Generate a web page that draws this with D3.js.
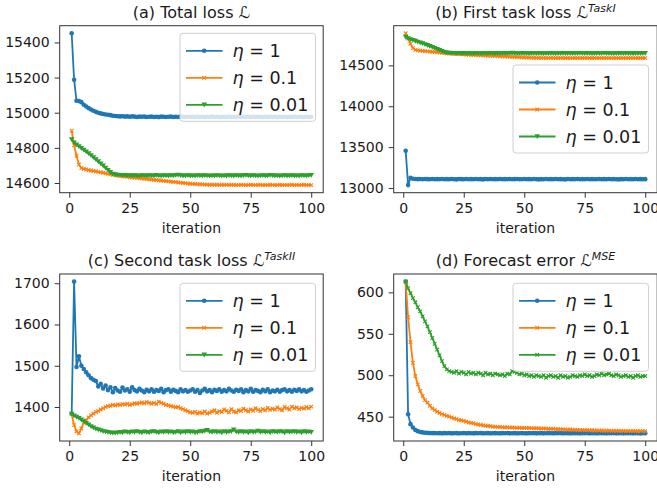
<!DOCTYPE html>
<html lang="en">
<head>
    <meta charset="utf-8">
    <script type="text/javascript" src="https://d3js.org/d3.v7.min.js"></script>
    <style>
        body { margin: 0; background: #fff; }
        svg text { font-family: "DejaVu Sans", sans-serif; fill: #1a1a1a; }
    </style>
</head>

<body>
    <script type="text/javascript">
        // Chart size
        let w = 657;
        let h = 491;

        // Iterations 1..100
        let iterations = d3.range(1, 101);

        // Legend labels (eta values)
        let etaLabels = ["1", "0.1", "0.01"];

        // Tick values per panel
        let xTicks = [0, 25, 50, 75, 100];
        let ticksA = [14600, 14800, 15000, 15200, 15400];
        let ticksB = [13000, 13500, 14000, 14500];
        let ticksC = [1400, 1500, 1600, 1700];
        let ticksD = [450, 500, 550, 600];

        // (a) Total loss
        let aBlue = [15452, 15188, 15068, 15066, 15060, 15045, 15035, 15026, 15018, 15011,
            15005, 15000, 14996, 14993, 14990, 14988, 14986, 14983, 14981, 14980,
            14979, 14980, 14978, 14979, 14977, 14979, 14978, 14976, 14978, 14977,
            14978, 14976, 14977, 14978, 14976, 14977, 14975, 14978, 14977, 14976,
            14977, 14978, 14976, 14977, 14976, 14978, 14977, 14975, 14977, 14976,
            14977, 14976, 14978, 14976, 14977, 14975, 14977, 14976, 14978, 14976,
            14977, 14976, 14975, 14977, 14976, 14978, 14976, 14977, 14975, 14977,
            14976, 14977, 14975, 14977, 14976, 14978, 14976, 14977, 14976, 14975,
            14977, 14976, 14978, 14976, 14977, 14975, 14977, 14976, 14977, 14975,
            14977, 14976, 14978, 14976, 14977, 14976, 14975, 14977, 14976, 14977];
        let aOrange = [14898, 14815, 14755, 14705, 14685, 14680, 14677, 14673, 14671, 14668,
            14666, 14663, 14661, 14658, 14655, 14652, 14649, 14646, 14644, 14642,
            14640, 14638, 14636, 14635, 14633, 14632, 14630, 14629, 14627, 14626,
            14624, 14623, 14621, 14620, 14618, 14617, 14615, 14614, 14612, 14611,
            14609, 14608, 14606, 14605, 14603, 14602, 14600, 14599, 14597, 14596,
            14595, 14594, 14593, 14592, 14592, 14591, 14591, 14590, 14591, 14590,
            14590, 14589, 14590, 14589, 14590, 14589, 14590, 14589, 14588, 14589,
            14589, 14590, 14588, 14589, 14590, 14589, 14588, 14589, 14590, 14588,
            14589, 14588, 14590, 14589, 14588, 14589, 14590, 14588, 14589, 14588,
            14589, 14590, 14588, 14589, 14588, 14589, 14590, 14588, 14589, 14588];
        let aGreen = [14848, 14830, 14818, 14808, 14798, 14788, 14778, 14768, 14757, 14746,
            14734, 14722, 14710, 14698, 14686, 14673, 14661, 14652, 14648, 14646,
            14645, 14643, 14644, 14642, 14643, 14641, 14643, 14642, 14640, 14643,
            14642, 14641, 14643, 14642, 14641, 14644, 14642, 14640, 14643, 14642,
            14641, 14643, 14642, 14644, 14646, 14643, 14641, 14642, 14643, 14641,
            14642, 14640, 14643, 14642, 14641, 14643, 14642, 14640, 14642, 14641,
            14643, 14642, 14640, 14642, 14641, 14643, 14642, 14641, 14643, 14642,
            14641, 14643, 14644, 14642, 14641, 14643, 14642, 14640, 14642, 14643,
            14641, 14642, 14644, 14643, 14641, 14642, 14640, 14642, 14643, 14641,
            14642, 14643, 14641, 14642, 14640, 14643, 14642, 14641, 14643, 14644];

        // (b) First task loss
        let bBlue = [13455, 13035, 13125, 13112, 13110, 13108, 13109, 13107, 13110, 13108,
            13106, 13109, 13107, 13108, 13106, 13110, 13107, 13108, 13106, 13109,
            13107, 13105, 13109, 13108, 13106, 13110, 13107, 13108, 13106, 13109,
            13107, 13108, 13105, 13109, 13107, 13110, 13106, 13108, 13107, 13109,
            13106, 13108, 13107, 13109, 13106, 13108, 13110, 13107, 13106, 13109,
            13107, 13108, 13106, 13109, 13107, 13105, 13108, 13107, 13109, 13106,
            13108, 13107, 13109, 13106, 13108, 13107, 13105, 13109, 13107, 13108,
            13106, 13109, 13107, 13108, 13106, 13109, 13107, 13108, 13106, 13107,
            13109, 13106, 13108, 13107, 13109, 13106, 13108, 13107, 13105, 13108,
            13107, 13109, 13106, 13108, 13107, 13109, 13106, 13108, 13107, 13108];
        let bOrange = [14893, 14830, 14765, 14712, 14690, 14684, 14680, 14677, 14674, 14672,
            14669, 14667, 14664, 14661, 14658, 14655, 14652, 14649, 14646, 14644,
            14642, 14640, 14638, 14636, 14635, 14633, 14631, 14630, 14628, 14627,
            14625, 14624, 14622, 14621, 14619, 14618, 14616, 14615, 14613, 14612,
            14610, 14609, 14607, 14606, 14604, 14603, 14601, 14600, 14598, 14597,
            14596, 14595, 14594, 14594, 14593, 14593, 14592, 14592, 14591, 14592,
            14591, 14590, 14591, 14590, 14591, 14590, 14591, 14590, 14589, 14590,
            14590, 14591, 14589, 14590, 14591, 14590, 14589, 14590, 14591, 14589,
            14590, 14589, 14591, 14590, 14589, 14590, 14591, 14589, 14590, 14589,
            14590, 14591, 14589, 14590, 14589, 14590, 14591, 14589, 14590, 14589];
        let bGreen = [14847, 14830, 14818, 14808, 14798, 14788, 14778, 14768, 14757, 14746,
            14734, 14722, 14710, 14698, 14686, 14674, 14663, 14655, 14652, 14650,
            14649, 14648, 14649, 14647, 14648, 14646, 14648, 14647, 14645, 14648,
            14647, 14646, 14648, 14647, 14646, 14649, 14647, 14645, 14648, 14647,
            14646, 14648, 14647, 14649, 14651, 14648, 14646, 14647, 14648, 14646,
            14647, 14645, 14648, 14647, 14646, 14648, 14647, 14645, 14647, 14646,
            14648, 14647, 14645, 14647, 14646, 14648, 14647, 14646, 14648, 14647,
            14646, 14648, 14649, 14647, 14646, 14648, 14647, 14645, 14647, 14648,
            14646, 14647, 14649, 14648, 14646, 14647, 14645, 14647, 14648, 14646,
            14647, 14648, 14646, 14647, 14645, 14648, 14647, 14646, 14648, 14649];

        // (c) Second task loss
        let cBlue = [1383, 1704, 1497, 1523, 1500, 1492, 1484, 1477, 1470, 1466,
            1463, 1450, 1456, 1445, 1452, 1441, 1448, 1436, 1446, 1440,
            1437, 1447, 1440, 1443, 1437, 1448, 1441, 1438, 1444, 1440,
            1436, 1442, 1438, 1443, 1437, 1441, 1439, 1444, 1436, 1441,
            1443, 1437, 1442, 1439, 1436, 1443, 1438, 1441, 1437, 1440,
            1443, 1437, 1441, 1434, 1440, 1444, 1438, 1441, 1436, 1442,
            1439, 1443, 1437, 1441, 1438, 1444, 1440, 1437, 1442, 1439,
            1443, 1436, 1441, 1438, 1444, 1437, 1441, 1439, 1436, 1442,
            1438, 1443, 1436, 1440, 1438, 1442, 1437, 1441, 1443, 1438,
            1441, 1437, 1442, 1439, 1443, 1438, 1441, 1437, 1440, 1443];
        let cOrange = [1383, 1356, 1341, 1336, 1348, 1362, 1368, 1375, 1380, 1384,
            1388, 1390, 1394, 1397, 1400, 1402, 1403, 1405, 1404, 1406,
            1405, 1407, 1406, 1408, 1405, 1407, 1409, 1408, 1410, 1411,
            1409, 1412, 1410, 1408, 1410, 1407, 1413, 1410, 1408, 1405,
            1404, 1402, 1401, 1399, 1400, 1397, 1395, 1392, 1390, 1387,
            1386, 1388, 1384, 1387, 1385, 1389, 1384, 1386, 1389, 1392,
            1386, 1390, 1388, 1394, 1391, 1387, 1395, 1389, 1387, 1392,
            1390, 1396, 1392, 1389, 1394, 1391, 1397, 1393, 1390, 1395,
            1392, 1398, 1393, 1396, 1394, 1399, 1395, 1392, 1400, 1397,
            1394, 1401, 1397, 1399, 1395, 1398, 1396, 1400, 1397, 1401];
        let cGreen = [1383, 1379, 1376, 1373, 1369, 1365, 1361, 1357, 1353, 1350,
            1347, 1345, 1343, 1341, 1340, 1339, 1338, 1337, 1337, 1338,
            1339, 1338, 1340, 1339, 1338, 1340, 1339, 1341, 1339, 1338,
            1340, 1339, 1338, 1340, 1341, 1339, 1338, 1340, 1339, 1341,
            1339, 1340, 1338, 1339, 1341, 1338, 1340, 1339, 1341, 1339,
            1340, 1338, 1339, 1341, 1340, 1342, 1344, 1340, 1339, 1341,
            1339, 1340, 1338, 1341, 1339, 1340, 1341, 1345, 1340, 1339,
            1341, 1339, 1340, 1338, 1341, 1339, 1340, 1342, 1339, 1341,
            1339, 1340, 1338, 1341, 1340, 1339, 1341, 1340, 1338, 1341,
            1339, 1340, 1341, 1339, 1340, 1338, 1341, 1339, 1340, 1339];

        // (d) Forecast error
        let dBlue = [613, 453, 441, 437, 434, 432.5, 431.5, 431, 430.6, 430.4,
            430.2, 430.1, 430.2, 430, 430.1, 429.9, 430.1, 430, 430.2, 429.9,
            430, 430.1, 429.9, 430, 430.2, 429.9, 430.1, 430, 429.9, 430.1,
            430, 430.2, 429.9, 430, 430.1, 429.9, 430, 430.1, 430, 429.9,
            430.1, 430, 430.2, 429.9, 430, 430.1, 429.9, 430, 430.1, 430,
            429.9, 430.1, 430, 430.2, 429.9, 430, 430.1, 429.9, 430, 430.1,
            430, 429.9, 430.1, 430, 430.2, 429.9, 430, 430.1, 429.9, 430,
            430.1, 430, 429.9, 430.1, 430, 430.2, 429.9, 430, 430.1, 429.9,
            430, 430.1, 430, 429.9, 430.1, 430, 430.2, 429.9, 430, 430.1,
            429.9, 430, 430.1, 430, 429.9, 430.1, 430, 429.8, 430, 430.1];
        let dOrange = [613, 570, 540, 515, 499, 489, 481, 475, 470, 467,
            463, 460, 458, 456, 454.5, 453, 452, 451, 450, 449,
            448, 447, 446, 445.5, 445, 444, 443, 442.5, 442, 441,
            440.5, 440, 439.5, 439, 438.8, 438.5, 438, 437.8, 437.5, 437.5,
            437.2, 437, 437.2, 436.8, 437, 436.8, 436.5, 436.7, 436.4, 436.5,
            436.2, 436.5, 436, 436.2, 435.8, 436, 435.6, 435.8, 435.5, 435.4,
            435.2, 435.4, 435, 434.8, 435, 434.6, 434.5, 434.3, 434.5, 434.2,
            434, 434.2, 433.8, 433.9, 433.6, 433.8, 433.5, 433.6, 433.3, 433.5,
            433.2, 433.4, 433, 433.2, 433.1, 432.9, 433, 432.8, 433, 432.7,
            432.9, 432.6, 432.8, 432.5, 432.7, 432.6, 432.4, 432.6, 432.5, 432.4];
        let dGreen = [613, 605, 599, 593, 588, 582, 577, 571, 565, 559,
            552, 545, 538, 531, 524, 517, 511, 507, 505, 504,
            503, 505, 502, 504, 503, 501, 504, 502, 503, 501,
            503, 502, 500, 503, 501, 502, 500, 502, 501, 500,
            501, 499, 502, 501, 505, 504, 503, 501, 502, 500,
            501, 499, 500, 498, 500, 499, 498, 500, 497, 499,
            500, 498, 499, 497, 500, 498, 499, 497, 498, 500,
            499, 498, 500, 499, 501, 499, 500, 498, 499, 501,
            500, 502, 500, 501, 502, 500, 499, 501, 500, 498,
            499, 500, 498, 499, 497, 499, 500, 498, 499, 499];

        let colors = ["#1f77b4", "#ff7f0e", "#2ca02c"];

        // Create SVG element
        let svg = d3.select("body").append("svg")
                    .attr("width", w)
                    .attr("height", h);

        // Plot area size (same for every panel)
        let pw = 263.5;
        let ph = 167;

        // Marker drawing: dot, x or triangle-down
        function drawMarker(g, type, color) {
            if (type === "dot") {
                g.append("circle").attr("r", 2.3).attr("fill", color);
            } else if (type === "x") {
                g.append("path").attr("d", "M-1.8,-1.8L1.8,1.8M-1.8,1.8L1.8,-1.8")
                    .attr("stroke", color).attr("stroke-width", 1.1).attr("fill", "none");
            } else {
                g.append("path").attr("d", "M-2.8,-2.2L2.8,-2.2L0,2.6Z").attr("fill", color);
            }
        }

        function drawPanel(p) {
            let g = svg.append("g").attr("transform", `translate(${p.left},${p.top})`);

            let allVals = [].concat(...p.series);
            let ext = d3.extent(allVals);
            let pad = (ext[1] - ext[0]) * 0.05;

            let x = d3.scaleLinear().domain([1 - 4.95, 100 + 4.95]).range([0, pw]);
            let y = d3.scaleLinear().domain([ext[0] - pad, ext[1] + pad]).range([ph, 0]);

            // Lines and markers
            let line = d3.line().x((d, i) => x(iterations[i])).y(d => y(d));
            p.series.forEach((vals, k) => {
                g.append("path")
                    .attr("d", line(vals))
                    .attr("fill", "none")
                    .attr("stroke", colors[k])
                    .attr("stroke-width", 1.8);
                let mk = g.append("g");
                vals.forEach((v, i) => {
                    let m = mk.append("g").attr("transform", `translate(${x(iterations[i])},${y(v)})`);
                    drawMarker(m, p.markers[k], colors[k]);
                });
            });

            // Axes
            let xAxis = g.append("g").attr("transform", `translate(0,${ph})`)
                .call(d3.axisBottom(x).tickValues(xTicks).tickSize(5).tickPadding(5).tickSizeOuter(0));
            let yAxis = g.append("g")
                .call(d3.axisLeft(y).tickValues(p.yTicks).tickSize(5).tickPadding(5).tickSizeOuter(0).tickFormat(d3.format("d")));
            [xAxis, yAxis].forEach(a => {
                a.select(".domain").remove();
                a.selectAll("line").attr("stroke", "#333").attr("stroke-width", 1);
                a.selectAll("text").attr("font-size", "14px").attr("fill", "#1a1a1a");
            });
            xAxis.selectAll("text").attr("dy", "0.72em");

            // Frame
            g.append("rect").attr("width", pw).attr("height", ph)
                .attr("fill", "none").attr("stroke", "#333").attr("stroke-width", 1);

            // Axis label
            g.append("text").attr("x", pw / 2).attr("y", ph + 40)
                .attr("text-anchor", "middle").attr("font-size", "14px").text("iteration");

            // Title
            let t = g.append("text").attr("x", pw / 2).attr("y", -8)
                .attr("text-anchor", "middle").attr("font-size", "16px");
            t.append("tspan").text(p.title + " ");
            t.append("tspan").attr("font-style", "italic").text("\u2112");
            if (p.sup) {
                t.append("tspan").attr("font-size", "11px").attr("font-style", "italic")
                    .attr("dy", "-0.55em").text(p.sup);
            }

            // Legend
            let lg = g.append("g").attr("transform", `translate(${p.legend[0]},${p.legend[1]})`);
            lg.append("rect").attr("width", 135.5).attr("height", 88).attr("rx", 3)
                .attr("fill", "white").attr("fill-opacity", 0.8)
                .attr("stroke", "#d0d0d0").attr("stroke-width", 1);
            etaLabels.forEach((lab, k) => {
                let cy = 17.5 + k * 27;
                lg.append("line").attr("x1", 6).attr("x2", 42.5).attr("y1", cy).attr("y2", cy)
                    .attr("stroke", colors[k]).attr("stroke-width", 1.8);
                let m = lg.append("g").attr("transform", `translate(24.2,${cy})`);
                drawMarker(m, p.markers[k], colors[k]);
                let tx = lg.append("text").attr("x", 52.5).attr("y", cy + 6.3).attr("font-size", "17.5px");
                tx.append("tspan").attr("font-style", "italic").text("\u03b7");
                tx.append("tspan").text(" = " + lab);
            });
        }

        drawPanel({ left: 59.7, top: 25.7, title: "(a) Total loss", sup: null,
            series: [aBlue, aOrange, aGreen], markers: ["dot", "x", "tri"], yTicks: ticksA, legend: [120.3, 7.6] });
        drawPanel({ left: 393.7, top: 25.7, title: "(b) First task loss", sup: "TaskI",
            series: [bBlue, bOrange, bGreen], markers: ["dot", "x", "tri"], yTicks: ticksB, legend: [119.3, 39.3] });
        drawPanel({ left: 59.7, top: 274, title: "(c) Second task loss", sup: "TaskII",
            series: [cBlue, cOrange, cGreen], markers: ["dot", "x", "tri"], yTicks: ticksC, legend: [120.3, 9.3] });
        drawPanel({ left: 393.7, top: 274, title: "(d) Forecast error", sup: "MSE",
            series: [dBlue, dOrange, dGreen], markers: ["dot", "x", "x"], yTicks: ticksD, legend: [119.3, 9.3] });
    </script>
</body>
</html>
